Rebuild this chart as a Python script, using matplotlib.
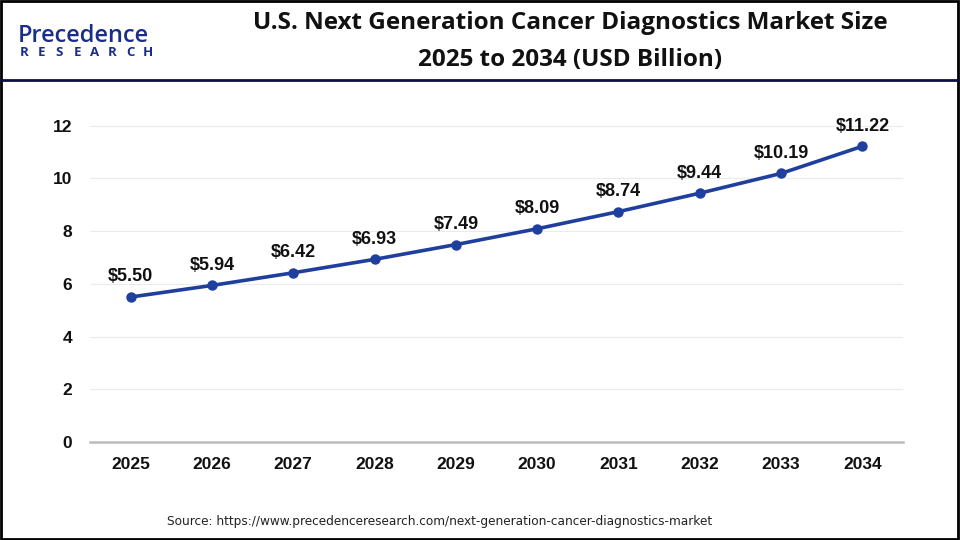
import matplotlib
matplotlib.use("Agg")
import matplotlib.pyplot as plt
from matplotlib.lines import Line2D
from matplotlib.patches import Rectangle

years = [2025, 2026, 2027, 2028, 2029, 2030, 2031, 2032, 2033, 2034]
values = [5.50, 5.94, 6.42, 6.93, 7.49, 8.09, 8.74, 9.44, 10.19, 11.22]
yticks = [0, 2, 4, 6, 8, 10, 12]
title = "U.S. Next Generation Cancer Diagnostics Market Size\n2025 to 2034 (USD Billion)"
source = "Source: https://www.precedenceresearch.com/next-generation-cancer-diagnostics-market"

fig = plt.figure(figsize=(9.6, 5.4), dpi=100)
fig.patch.set_facecolor("white")

# outer border
fig.add_artist(Rectangle((0.001, 0.002), 0.997, 0.996, transform=fig.transFigure,
                         fill=False, edgecolor="black", linewidth=2))
# header separator
fig.add_artist(Line2D([0.0, 1.0], [1 - 80 / 540, 1 - 80 / 540], transform=fig.transFigure,
                      color="#0d1240", linewidth=2))

# title
fig.text(0.594, 1 - 41.5 / 540, title, ha="center", va="center", fontsize=17.5,
         fontweight="bold", family="Open Sans", color="#111111", linespacing=1.7)

# logo
fig.text(0.019, 1 - 36 / 540, "Precedence", ha="left", va="center", fontsize=17,
         family="Open Sans", color="#1a2d8a", fontweight="semibold")
for i, ch in enumerate("RESEARCH"):
    fig.text((24 + i * 17.7) / 960, 1 - 53 / 540, ch, ha="center", va="center",
             fontsize=9.5, family="Open Sans", color="#1a2d8a", fontweight="bold")

ax = fig.add_axes([90 / 960, 1 - 442 / 540, (903 - 90) / 960, (442 - 102) / 540])
x = list(range(len(years)))
ax.plot(x, values, color="#1f3f9f", linewidth=2.6, marker="o", markersize=6.5,
        clip_on=False, zorder=3)
for xi, v in zip(x, values):
    ax.annotate(f"${v:.2f}", (xi, v), xytext=(0, 14.5), textcoords="offset points",
                ha="center", va="center", fontsize=13, fontweight="bold",
                family="Liberation Sans", color="#111111")

ax.set_xlim(-0.5, 9.5)
ax.set_ylim(0, 12.9)
ax.set_yticks(yticks)
ax.set_yticklabels([str(t) for t in yticks])
ax.set_xticks(x)
ax.set_xticklabels([str(y) for y in years])
for lab in ax.get_xticklabels() + ax.get_yticklabels():
    lab.set_fontweight("bold")
    lab.set_fontsize(12.5)
    lab.set_family("Liberation Sans")
    lab.set_color("#111111")
ax.tick_params(axis="both", length=0)
ax.tick_params(axis="y", pad=13)
ax.tick_params(axis="x", pad=11)
ax.grid(axis="y", color="#ebebeb", linewidth=0.8)
ax.set_axisbelow(True)
for s in ["top", "right", "left"]:
    ax.spines[s].set_visible(False)
ax.spines["bottom"].set_color("#bbbbbb")
ax.spines["bottom"].set_linewidth(1.8)

fig.text(440 / 960, 1 - 521 / 540, source, ha="center", va="center", fontsize=8.7,
         family="Liberation Sans Narrow", color="#222222")

fig.savefig("out.png", dpi=100, facecolor="white")
